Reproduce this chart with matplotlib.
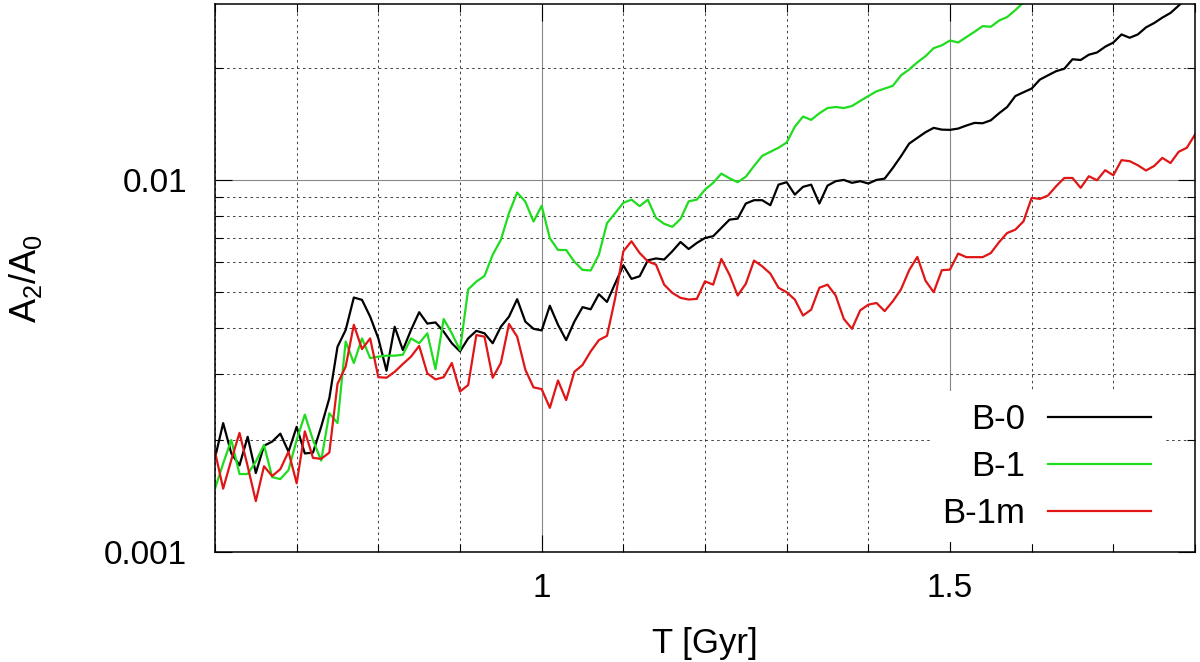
import numpy as np
import matplotlib
matplotlib.use("Agg")
import matplotlib.pyplot as plt
from matplotlib.ticker import LogLocator, MultipleLocator, FixedFormatter, FixedLocator, NullFormatter

plt.rcParams["font.family"] = ["Liberation Sans", "DejaVu Sans"]
plt.rcParams["mathtext.default"] = "regular"

#### data, sampled every 0.01 Gyr from 0.6 Gyr ####
t_start = 0.60
dt = 0.01

b0 = [0.00179, 0.00222, 0.00184, 0.00171, 0.00204, 0.00163, 0.00193, 0.00198, 0.00208, 0.00186,
      0.00217, 0.00184, 0.00185, 0.00217, 0.00259, 0.00356, 0.00395, 0.00483, 0.00476, 0.00429,
      0.00375, 0.00307, 0.00403, 0.00349, 0.00395, 0.00441, 0.00411, 0.00414, 0.00391, 0.00364,
      0.00346, 0.00375, 0.00393, 0.00387, 0.00364, 0.00403, 0.00429, 0.00478, 0.00416, 0.00398,
      0.00394, 0.00459, 0.00408, 0.00371, 0.00416, 0.00455, 0.00449, 0.00493, 0.00470, 0.00527,
      0.00589, 0.00542, 0.00551, 0.00608, 0.00615, 0.00611, 0.00643, 0.00681, 0.00652, 0.00677,
      0.00698, 0.00706, 0.00743, 0.00782, 0.00787, 0.00864, 0.00882, 0.00882, 0.00855, 0.00971,
      0.00986, 0.00913, 0.00958, 0.00971, 0.00864, 0.00965, 0.00992, 0.01000, 0.00982, 0.00992,
      0.00978, 0.01000, 0.01008, 0.01077, 0.01158, 0.01252, 0.01297, 0.01343, 0.01380, 0.01365,
      0.01363, 0.01374, 0.01400, 0.01423, 0.01420, 0.01446, 0.01510, 0.01570, 0.01680, 0.01720,
      0.01760, 0.01860, 0.01910, 0.01960, 0.01990, 0.02110, 0.02100, 0.02170, 0.02200, 0.02280,
      0.02340, 0.02460, 0.02410, 0.02460, 0.02570, 0.02640, 0.02730, 0.02810, 0.02940, 0.03100,
      0.03200]

b1 = [0.00148, 0.00173, 0.00200, 0.00162, 0.00162, 0.00175, 0.00194, 0.00159, 0.00157, 0.00166,
      0.00200, 0.00234, 0.00200, 0.00176, 0.00236, 0.00222, 0.00368, 0.00322, 0.00375, 0.00332,
      0.00335, 0.00337, 0.00337, 0.00339, 0.00375, 0.00364, 0.00387, 0.00310, 0.00423, 0.00387,
      0.00349, 0.00508, 0.00533, 0.00552, 0.00629, 0.00690, 0.00814, 0.00925, 0.00874, 0.00773,
      0.00852, 0.00697, 0.00648, 0.00648, 0.00603, 0.00573, 0.00571, 0.00629, 0.00765, 0.00814,
      0.00868, 0.00885, 0.00850, 0.00885, 0.00790, 0.00762, 0.00748, 0.00785, 0.00876, 0.00885,
      0.00942, 0.00982, 0.01040, 0.01010, 0.00986, 0.01020, 0.01090, 0.01160, 0.01190, 0.01220,
      0.01260, 0.01390, 0.01480, 0.01450, 0.01510, 0.01560, 0.01570, 0.01560, 0.01580, 0.01630,
      0.01680, 0.01730, 0.01760, 0.01790, 0.01910, 0.01980, 0.02070, 0.02150, 0.02260, 0.02300,
      0.02370, 0.02340, 0.02420, 0.02500, 0.02590, 0.02580, 0.02680, 0.02740, 0.02860, 0.03000,
      0.03160]

b1m = [0.00186, 0.00148, 0.00177, 0.00209, 0.00170, 0.00137, 0.00170, 0.00160, 0.00167, 0.00186,
       0.00153, 0.00211, 0.00179, 0.00178, 0.00185, 0.00283, 0.00315, 0.00408, 0.00351, 0.00375,
       0.00295, 0.00294, 0.00305, 0.00320, 0.00335, 0.00358, 0.00302, 0.00291, 0.00295, 0.00322,
       0.00270, 0.00281, 0.00383, 0.00379, 0.00294, 0.00322, 0.00410, 0.00379, 0.00309, 0.00277,
       0.00274, 0.00244, 0.00289, 0.00256, 0.00305, 0.00318, 0.00346, 0.00371, 0.00381, 0.00481,
       0.00643, 0.00684, 0.00636, 0.00604, 0.00592, 0.00523, 0.00497, 0.00482, 0.00477, 0.00479,
       0.00534, 0.00523, 0.00613, 0.00556, 0.00489, 0.00526, 0.00607, 0.00586, 0.00560, 0.00513,
       0.00499, 0.00477, 0.00432, 0.00448, 0.00513, 0.00523, 0.00489, 0.00423, 0.00398, 0.00446,
       0.00462, 0.00467, 0.00444, 0.00472, 0.00508, 0.00572, 0.00621, 0.00536, 0.00499, 0.00572,
       0.00574, 0.00634, 0.00620, 0.00620, 0.00620, 0.00636, 0.00680, 0.00720, 0.00735, 0.00774,
       0.00895, 0.00889, 0.00908, 0.00962, 0.01012, 0.01012, 0.00952, 0.01023, 0.00998, 0.01062,
       0.01029, 0.01130, 0.01123, 0.01095, 0.01060, 0.01090, 0.01146, 0.01110, 0.01190, 0.01220,
       0.01324]

series = [b0, b1, b1m]
legend = ["B-0", "B-1", "B-1m"]
colors = ["black", "#1fdc1f", "#e01515"]

W, H = 1200, 662
fig = plt.figure(figsize=(W / 100, H / 100), dpi=100)
ax = fig.add_axes([215 / W, 1 - 552 / H, 980 / W, 548 / H])

for values, name, c in zip(series, legend, colors):
    t = t_start + dt * np.arange(len(values))
    ax.plot(t, values, color=c, lw=1.6, label=name, zorder=3)

ax.set_yscale("log")
ax.set_xlim(0.6, 1.8)
ax.set_ylim(0.001, 0.0297)

# ticks
ax.xaxis.set_major_locator(MultipleLocator(0.5))
ax.xaxis.set_minor_locator(MultipleLocator(0.1))
ax.xaxis.set_major_formatter(FixedFormatter([]))
ax.set_xticks([1.0, 1.5])
ax.set_xticklabels(["1", "1.5"])
ax.yaxis.set_major_locator(FixedLocator([0.001, 0.01]))
ax.set_yticklabels(["0.001", "0.01"])
ax.yaxis.set_minor_locator(LogLocator(base=10, subs=np.arange(2, 10)))
ax.yaxis.set_minor_formatter(NullFormatter())

ax.tick_params(which="both", direction="in", top=True, right=True, width=0.8, labelsize=24)
ax.tick_params(which="major", length=12)
ax.tick_params(which="minor", length=6)
ax.tick_params(axis="y", which="major", pad=20)
ax.tick_params(axis="x", which="major", pad=15)

# grid
ax.grid(which="major", color="#888888", linestyle="-", lw=0.8, zorder=1)
ax.grid(which="minor", color="#222222", linestyle=(0, (3, 4)), lw=0.6, zorder=1)
ax.set_axisbelow(True)

for sp in ax.spines.values():
    sp.set_linewidth(1.1)
    sp.set_zorder(5)

fig.text(25 / W, 1 - 278 / H, "A$_2$/A$_0$", rotation=90, ha="center", va="center", fontsize=26)
fig.text(705 / W, 1 - 644 / H, "T [Gyr]", ha="center", va="center", fontsize=25)

leg = ax.legend(loc="lower right", bbox_to_anchor=(1163 / W, 1 - 542 / H), bbox_transform=fig.transFigure,
                markerfirst=False, fontsize=25, frameon=True, fancybox=False, framealpha=1,
                borderaxespad=0, borderpad=0.35, handlelength=2.97, handletextpad=0.66, labelspacing=0.4)
leg.get_frame().set_edgecolor("none")
leg.get_frame().set_facecolor("white")
leg.set_zorder(4)

fig.savefig("out.png", dpi=100)
